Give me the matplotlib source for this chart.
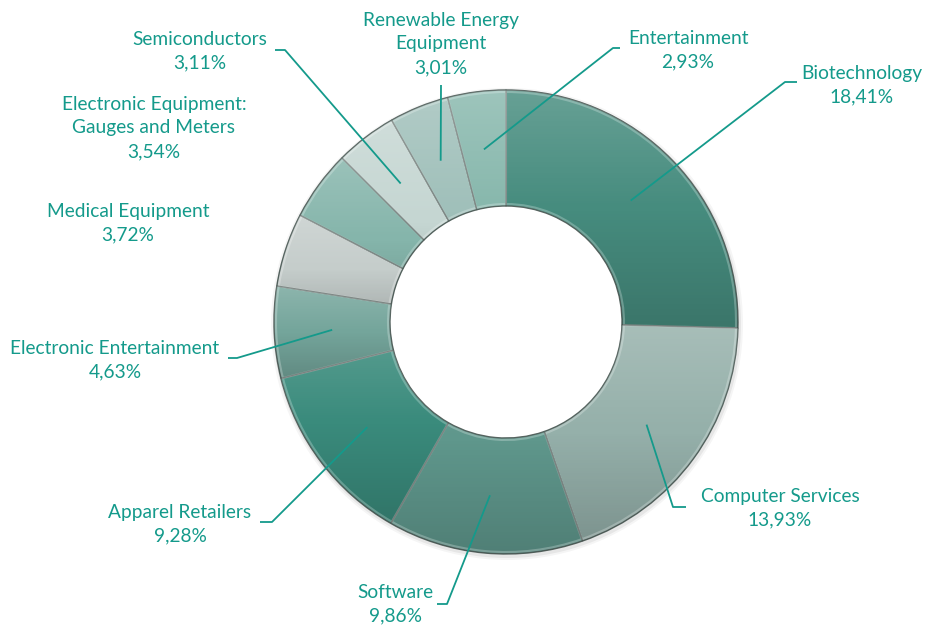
import numpy as np
import matplotlib.pyplot as plt
from matplotlib.patches import Wedge

categories = ["Biotechnology", "Computer Services", "Software", "Apparel Retailers",
              "Electronic Entertainment", "Medical Equipment",
              "Electronic Equipment:\nGauges and Meters", "Semiconductors",
              "Renewable Energy\nEquipment", "Entertainment"]
values = [18.41, 13.93, 9.86, 9.28, 4.63, 3.72, 3.54, 3.11, 3.01, 2.93]
colors = ["#468c7e", "#95b0aa", "#5f978c", "#3a8b7c", "#74a59b",
          "#c5cdcb", "#85b5ab", "#c5d6d2", "#a0c0ba", "#88b8ad"]

W, H = 926, 631
fig = plt.figure(figsize=(9.26, 6.31), dpi=100)
ax = fig.add_axes([0, 0, 1, 1])

cx, cy = 506, H - 322
R, width = 232, 116
TXT = "#149a8b"

# soft shadow
for k, a in zip([4, 2], [0.04, 0.06]):
    ax.add_patch(plt.Circle((cx + 1, cy - 2), R + k, color="black", alpha=a, lw=0, zorder=0))
ax.add_patch(plt.Circle((cx, cy), R - width, color="white", lw=0, zorder=0.5))

wedges, _ = ax.pie(values, colors=colors, startangle=90, counterclock=False,
                   radius=R, center=(cx, cy),
                   wedgeprops=dict(width=width, edgecolor="#55635f", linewidth=1.0))
for w in wedges:
    w.set_zorder(1)

# vertical gradient shading in each wedge
grad = np.zeros((64, 1, 4))
t = np.linspace(0, 1, 64)
for i, tt in enumerate(t):
    if tt < 0.5:
        grad[i, 0] = [1, 1, 1, 0.18 * (1 - 2 * tt)]
    else:
        grad[i, 0] = [0, 0, 0, 0.16 * (2 * tt - 1)]
for w in wedges:
    verts = w.get_patch_transform().transform(w.get_path().vertices)
    x0, y0 = verts.min(axis=0)
    x1, y1 = verts.max(axis=0)
    im = ax.imshow(grad, extent=[x0, x1, y0, y1], origin="upper",
                   aspect="auto", zorder=2, interpolation="bilinear")
    im.set_clip_path(w)
    hl = Wedge((cx, cy), R - 2, w.theta1, w.theta2, width=width - 4,
               fill=False, edgecolor="white", alpha=0.25, lw=1.5, zorder=2.5)
    ax.add_patch(hl)
    hl.set_clip_path(w)

# labels
label_pos = [(862, 85), (780, 508), (395, 604), (180, 524), (115, 360),
             (128, 223), (154, 128), (200, 51), (441, 44), (688, 50)]
leaders = [[(785, 82), (797, 82)],
           [(673, 507), (686, 507)],
           [(447, 604), (437, 604)],
           [(272, 522), (260, 522)],
           [(237, 358), (228, 358)],
           None,
           None,
           [(285, 50), (275, 50)],
           [(441, 85)],
           [(613, 48), (620, 48)]]

rmid = R - width / 2
for w, cat, v, pos, ld in zip(wedges, categories, values, label_pos, leaders):
    txt = f"{cat}\n{v:.2f}".replace(".", ",") + "%"
    ax.text(pos[0], H - pos[1], txt, ha="center", va="center", color=TXT,
            fontsize=13.8, family=["Lato", "DejaVu Sans"], linespacing=1.48, zorder=5)
    if ld is not None:
        th = np.deg2rad((w.theta1 + w.theta2) / 2)
        ax_ = cx + rmid * np.cos(th)
        ay_ = cy + rmid * np.sin(th)
        xs = [ax_] + [p[0] for p in ld]
        ys = [ay_] + [H - p[1] for p in ld]
        ax.plot(xs, ys, color=TXT, lw=1.3, zorder=4, solid_capstyle="butt")

ax.set_xlim(0, W)
ax.set_ylim(0, H)
ax.set_aspect("equal")
ax.axis("off")
fig.savefig("out.png", dpi=100, facecolor="white")
